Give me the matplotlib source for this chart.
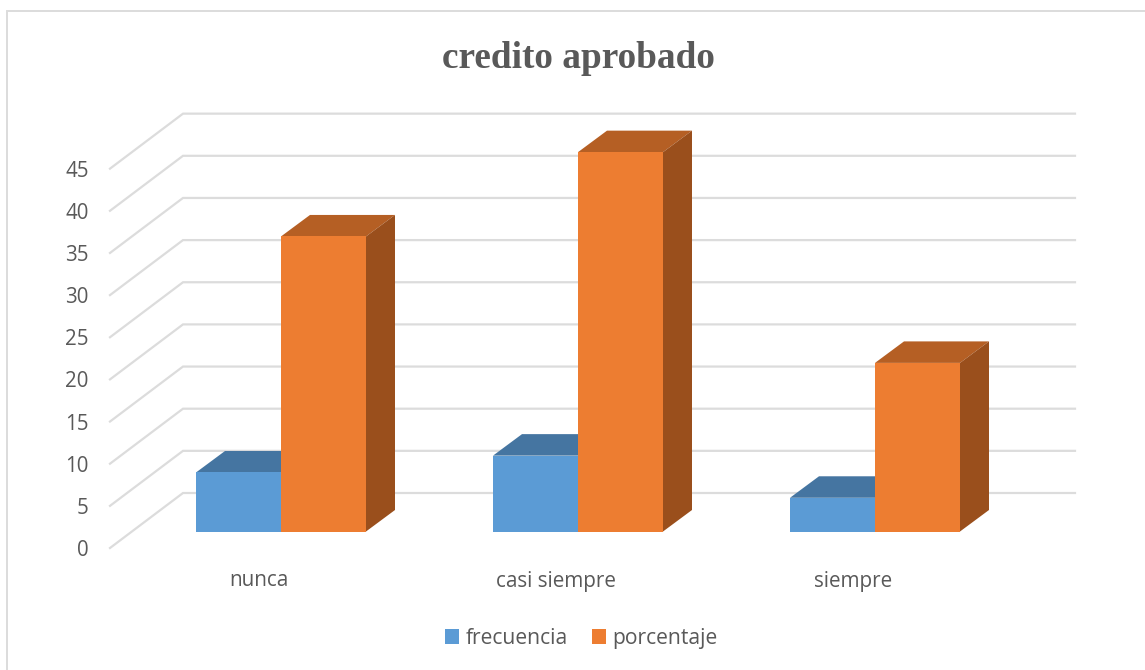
import matplotlib
matplotlib.use("Agg")
import matplotlib.pyplot as plt
from matplotlib.patches import Patch, Polygon

categories = ["nunca", "casi siempre", "siempre"]
frecuencia = [7, 9, 4]
porcentaje = [35, 45, 20]
y_ticks = [0, 5, 10, 15, 20, 25, 30, 35, 40, 45]
series_names = ["frecuencia", "porcentaje"]
title = "credito aprobado"

W, H = 1145, 670
GREY = "#595959"
GRID = "#dcdcdc"
FONT = "Open Sans"
LABEL_SIZE = 14.8
C_BLUE = ("#5b9bd5", "#4575a1", "#3f6f9c")
C_ORANGE = ("#ed7d31", "#b55f24", "#9a4f1c")

fig = plt.figure(figsize=(W / 100, H / 100), dpi=100, facecolor="white")
ax = fig.add_axes([0, 0, 1, 1])

# scales: one category = 297 px, one value unit = 8.43 px
UX, UY = 297.0, 8.43
x0_px, y0_px = 281.0, 531.5
ax.set_xlim(-x0_px / UX, (W - x0_px) / UX)
ax.set_ylim(-(H - y0_px) / UY, y0_px / UY)
ax.axis("off")

def px_x(d):
    return d / UX

def px_y(d):
    return d / UY

# frame: only the top and left edges show, running off the picture
ax.plot([px_x(6.5 - x0_px), px_x(6.5 - x0_px), px_x(W + 5 - x0_px)],
        [px_y(y0_px - H - 5), px_y(y0_px - 10.5), px_y(y0_px - 10.5)],
        color=GRID, lw=1.4, solid_joinstyle="miter", zorder=1)

# walls
wall_front = px_x(110 - x0_px)
wall_back = px_x(183 - x0_px)
wall_right = px_x(1075 - x0_px)
floor_front = px_y(y0_px - 548)
floor_back = px_y(y0_px - 493)
for t in y_ticks:
    ax.plot([wall_front, wall_back, wall_right],
            [t + floor_front, t + floor_back, t + floor_back],
            color=GRID, lw=1.6, solid_joinstyle="miter", zorder=2)

# bars
bw = px_x(85)
ddx, ddy = px_x(29), px_y(21.5)

def bar3d(xs, vals, colors, z):
    ax.bar(xs, vals, width=bw, align="center", color=colors[0], lw=0, zorder=z + 0.2)
    for x, v in zip(xs, vals):
        l, r = x - bw / 2, x + bw / 2
        ax.add_patch(Polygon([(l, v), (r, v), (r + ddx, v + ddy), (l + ddx, v + ddy)],
                             fc=colors[1], ec="none", zorder=z))
        ax.add_patch(Polygon([(r, 0), (r, v), (r + ddx, v + ddy), (r + ddx, ddy)],
                             fc=colors[2], ec="none", zorder=z + 0.1))

pos = range(len(categories))
bar3d([i - bw / 2 for i in pos], frecuencia, C_BLUE, 3)
bar3d([i + bw / 2 for i in pos], porcentaje, C_ORANGE, 4)

# category labels
for i, c in enumerate(categories):
    ax.text(i + px_x(-22), px_y(y0_px - 581), c, ha="center", va="center",
            family=FONT, fontsize=LABEL_SIZE + 0.1, color=GREY, zorder=6)

# value axis labels
tick_ax = fig.add_axes([88.5 / W, (H - 548) / H, 1 / W, UY * 45 / H])
tick_ax.patch.set_alpha(0)
tick_ax.set_ylim(0, 45)
tick_ax.set_xticks([])
tick_ax.set_yticks(y_ticks)
tick_ax.tick_params(axis="y", length=0, pad=0, labelcolor=GREY, labelsize=LABEL_SIZE)
for lab in tick_ax.get_yticklabels():
    lab.set_family(FONT)
for s in tick_ax.spines.values():
    s.set_visible(False)

# title
ax.text(px_x(578 - x0_px), px_y(y0_px - 58), title, ha="center", va="center",
        family="Liberation Serif", weight="bold", fontsize=26.8, color=GREY, zorder=6)

# legend
handles = [Patch(fc=C_BLUE[0], ec="none"), Patch(fc=C_ORANGE[0], ec="none")]
fig.legend(handles, series_names, loc="center", bbox_to_anchor=(581.5 / W, (H - 638.5) / H),
           ncol=2, frameon=False, handlelength=0.66, handleheight=0.66, handletextpad=0.32,
           columnspacing=1.1, prop={"family": FONT, "size": 15.2}, labelcolor=GREY)

fig.savefig("out.png", dpi=100, facecolor="white")
